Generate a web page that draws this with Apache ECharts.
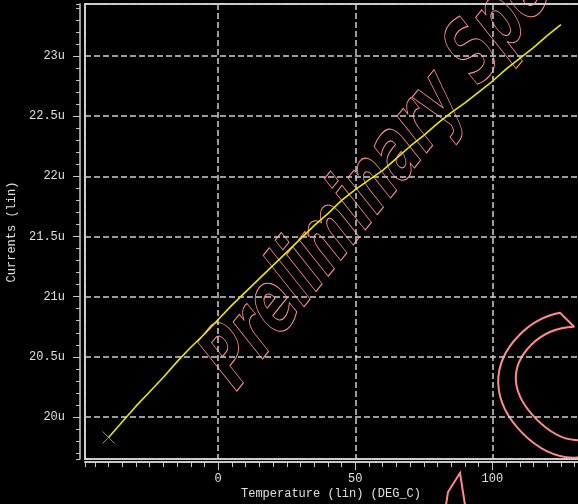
<!DOCTYPE html>
<html><head><meta charset="utf-8">
<script src="https://cdn.jsdelivr.net/npm/echarts@6/dist/echarts.min.js"></script>
<style>html,body{margin:0;padding:0;background:#000;}#c{width:578px;height:504px;}</style>
</head><body><div id="c"></div>
<script>
// ---- data (currents in uA) ----
const temperatures = [-40,-35,-30,-25,-20,-15,-10,-5,0,5,10,15,20,25,30,35,40,45,50,55,60,65,70,75,80,85,90,95,100,105,110,115,120,125];
const currents = [19.83,19.96,20.09,20.21,20.33,20.46,20.58,20.69,20.81,20.93,21.04,21.15,21.26,21.37,21.48,21.59,21.69,21.80,21.89,21.97,22.05,22.15,22.25,22.34,22.44,22.53,22.61,22.70,22.79,22.89,22.98,23.07,23.17,23.26];
const xTickLabels = [0, 50, 100];
const yTickLabels = [20, 20.5, 21, 21.5, 22, 22.5, 23];
const xTitle = 'Temperature (lin) (DEG_C)';
const yTitle = 'Currents (lin)';
const watermarkText = 'Preliminary Spec';
const startMarker = [[temperatures[0], currents[0]]];

const axisColor = '#c8c8c8';
const textColor = '#e0e0e0';
const mono = '"Liberation Mono", "DejaVu Sans Mono", monospace';
const pink = '#ff8a8a';
const near = (list, v) => list.some(t => Math.abs(t - v) < 1e-6);

const chart = echarts.init(document.getElementById('c'), null, {renderer: 'canvas'});
chart.setOption({
  animation: false,
  backgroundColor: '#000',
  grid: {left: 85, top: 4, width: 517, height: 455, containLabel: false, outerBoundsMode: 'none',
         show: true, borderColor: axisColor, borderWidth: 2, backgroundColor: 'transparent'},
  xAxis: [
    {type: 'value', min: -48.6, max: 140, minInterval: 50, maxInterval: 50, position: 'bottom', offset: 3,
     axisLine: {show: true, onZero: false, lineStyle: {color: axisColor, width: 2}},
     axisTick: {show: true, length: 8, lineStyle: {color: axisColor, width: 1}},
     axisLabel: {color: textColor, fontFamily: mono, fontSize: 12, margin: 11, showMinLabel: false, showMaxLabel: false,
       formatter: v => near(xTickLabels, v) ? String(v) : ''},
     splitLine: {show: true, lineStyle: {color: '#d0d0d0', width: 1.5, type: [6, 3]}}},
    {type: 'value', min: -48.6, max: 140, minInterval: 5, maxInterval: 5, position: 'bottom', offset: 3,
     axisLine: {show: false, onZero: false}, axisTick: {show: true, length: 5, lineStyle: {color: axisColor, width: 1}},
     axisLabel: {show: false}, splitLine: {show: false}}
  ],
  yAxis: [
    {type: 'value', min: 19.651, max: 23.432, minInterval: 0.5, maxInterval: 0.5, position: 'left', offset: 5,
     axisLine: {show: true, onZero: false, lineStyle: {color: axisColor, width: 1.5}},
     axisTick: {show: true, length: 7, lineStyle: {color: axisColor, width: 1}},
     axisLabel: {color: textColor, fontFamily: mono, fontSize: 12, margin: 15, showMinLabel: false, showMaxLabel: false,
       formatter: v => near(yTickLabels, v) ? (Math.round(v * 10) / 10) + 'u' : ''},
     splitLine: {show: true, lineStyle: {color: '#d0d0d0', width: 1.5, type: [6, 3]}}},
    {type: 'value', min: 19.651, max: 23.432, minInterval: 0.1, maxInterval: 0.1, position: 'left', offset: 5,
     axisLine: {show: false, onZero: false}, axisTick: {show: true, length: 4, lineStyle: {color: axisColor, width: 1}},
     axisLabel: {show: false}, splitLine: {show: false}}
  ],
  series: [
    {type: 'line', xAxisIndex: 0, yAxisIndex: 0, data: temperatures.map((t, i) => [t, currents[i]]),
     symbol: 'none', lineStyle: {color: '#e8e800', width: 1.6}, z: 5, silent: true},
    {type: 'scatter', xAxisIndex: 0, yAxisIndex: 0, data: startMarker, symbol: 'path://M0 0L10 10M10 0L0 10', symbolSize: 12,
     itemStyle: {color: 'none', borderColor: '#c8c800', borderWidth: 1}, z: 6, silent: true}
  ],
  graphic: [
    {type: 'group', x: 389, y: 165, scaleY: 1.255, z: 1, silent: true, children: [
      {type: 'text', rotation: Math.PI / 4, scaleX: 0.66, style: {text: watermarkText, fontFamily: '"DejaVu Sans"', fontWeight: 'bold', fontSize: 76,
        align: 'center', verticalAlign: 'middle', fill: 'none', stroke: pink, lineWidth: 1}}
    ]},
    {type: 'group', x: 576, y: 408, scaleY: 1.0, z: 1, silent: true, children: [
      {type: 'text', rotation: Math.PI / 4, style: {text: 'C', fontFamily: '"DejaVu Sans"', fontSize: 190,
        align: 'center', verticalAlign: 'middle', fill: 'none', stroke: pink, lineWidth: 2}}
    ]},
    {type: 'polyline', z: 1, silent: true, shape: {points: [[446, 505], [448, 492], [460, 473], [465, 505]]},
     style: {stroke: pink, lineWidth: 2, fill: 'none'}},
    {type: 'text', x: 12, y: 232, rotation: Math.PI / 2, silent: true,
     style: {text: yTitle, fontFamily: mono, fontSize: 12, fill: textColor, align: 'center', verticalAlign: 'middle'}},
    {type: 'text', x: 331, y: 494, silent: true,
     style: {text: xTitle, fontFamily: mono, fontSize: 12, fill: textColor, align: 'center', verticalAlign: 'middle'}}
  ]
});
</script></body></html>
